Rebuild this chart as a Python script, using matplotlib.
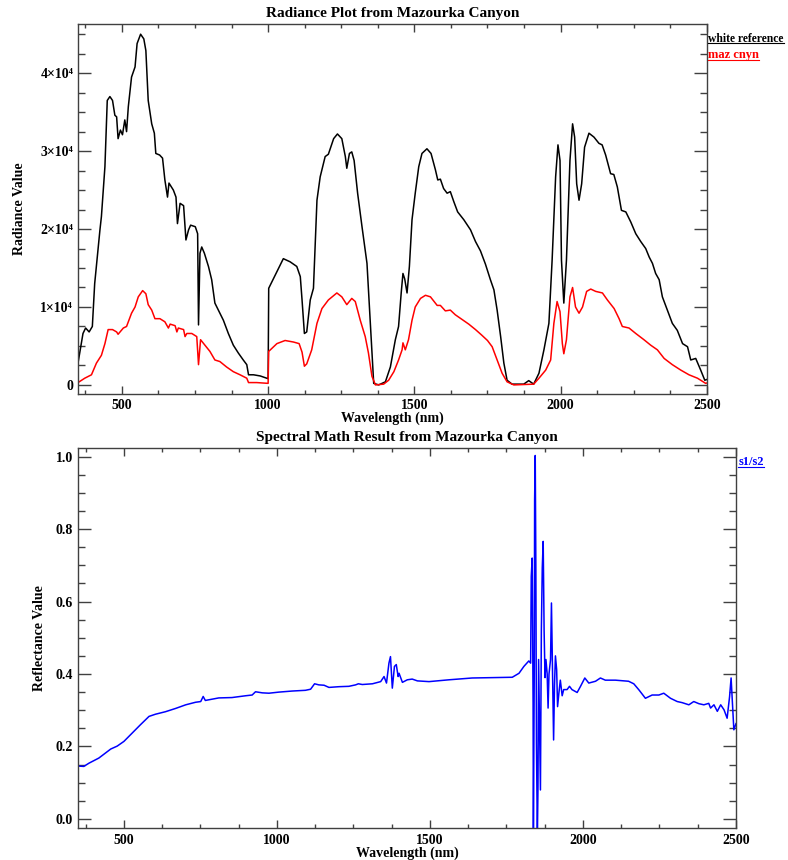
import matplotlib
matplotlib.use('Agg')
import matplotlib.pyplot as plt
from matplotlib.ticker import MultipleLocator, FuncFormatter

plt.rcParams['font.family'] = ['Liberation Serif', 'DejaVu Serif']
plt.rcParams['font.weight'] = 'bold'

# white reference radiance
white_wl = [350, 367, 376, 388, 399, 407, 425, 430, 442, 450, 459, 468, 476, 482, 487, 495,
            502, 510, 516, 522, 533, 545, 552, 564, 575, 582, 590, 602, 611, 616, 629, 639,
            647, 656, 661, 676, 685, 690, 699, 711, 716, 719, 728, 735, 751, 759, 762, 767,
            773, 782, 796, 807, 818, 830, 847, 864, 881, 898, 915, 927, 933, 950, 973, 995,
            1000, 1002, 1052, 1075, 1098, 1110, 1116, 1124, 1132, 1144, 1155, 1167, 1178,
            1195, 1206, 1224, 1237, 1252, 1264, 1269, 1278, 1286, 1294, 1306, 1321, 1338,
            1349, 1361, 1378, 1401, 1418, 1435, 1446, 1455, 1461, 1467, 1475, 1483, 1492,
            1503, 1515, 1526, 1543, 1557, 1572, 1580, 1589, 1600, 1612, 1623, 1635, 1648,
            1669, 1692, 1709, 1726, 1743, 1760, 1772, 1783, 1795, 1806, 1817, 1834, 1874,
            1891, 1908, 1926, 1943, 1960, 1971, 1983, 1991, 1998, 2003, 2011, 2020, 2032,
            2041, 2048, 2055, 2063, 2072, 2082, 2097, 2114, 2131, 2142, 2154, 2171, 2182,
            2194, 2208, 2223, 2240, 2257, 2274, 2291, 2303, 2314, 2325, 2337, 2348, 2365,
            2382, 2399, 2417, 2434, 2445, 2462, 2479, 2493, 2500]
white_rad = [2800, 6600, 7300, 6800, 7500, 13000, 19900, 21600, 28000, 36500, 37000, 36500,
             34600, 34400, 31600, 32700, 32100, 34000, 32500, 35700, 39500, 40800, 43800,
             45000, 44400, 42900, 36500, 33500, 32300, 29700, 29500, 29100, 26300, 24100,
             25900, 25000, 24100, 20700, 23300, 23000, 20300, 18600, 19900, 20500, 20300,
             19400, 7700, 16900, 17700, 16900, 15200, 13500, 10500, 9600, 8300, 6600, 5100,
             4100, 3200, 2600, 1300, 1300, 1150, 860, 800, 12400, 16200, 15800, 15200,
             13900, 10900, 6600, 6800, 10900, 12400, 23700, 26700, 29300, 29600, 31600,
             32200, 31600, 29300, 27800, 29700, 29900, 28800, 24600, 20300, 15600, 8300,
             200, 0, 400, 2300, 5800, 7500, 11800, 14300, 13600, 11800, 15200, 21200, 24600,
             28000, 29700, 30300, 29700, 27600, 26300, 26400, 25200, 24600, 24800, 23500,
             22200, 21200, 19900, 18400, 17200, 15500, 13500, 12200, 9600, 6200, 2800, 600,
             100, 100, 550, 100, 1500, 4500, 7900, 16000, 26700, 30800, 28800, 16000, 10500,
             16000, 28800, 33500, 31800, 25800, 23700, 25800, 30500, 32300, 31800, 31000,
             30800, 29500, 27100, 27000, 25400, 22400, 22200, 20900, 19400, 18400, 17500,
             16400, 15600, 14300, 13500, 11300, 9600, 7900, 7000, 5300, 4900, 3200, 3400,
             1900, 600, 700]

# maz cnyn radiance
maz_wl = [350, 373, 396, 413, 430, 442, 453, 468, 482, 487, 505, 516, 522, 533, 545, 556,
          571, 582, 590, 602, 613, 630, 647, 659, 665, 682, 688, 693, 711, 716, 722, 739,
          756, 762, 769, 784, 801, 818, 835, 858, 881, 904, 927, 933, 961, 1000, 1002, 1030,
          1058, 1087, 1106, 1116, 1124, 1132, 1149, 1167, 1184, 1206, 1235, 1252, 1269,
          1286, 1298, 1315, 1332, 1343, 1355, 1367, 1395, 1412, 1430, 1446, 1458, 1461,
          1469, 1480, 1492, 1503, 1521, 1538, 1555, 1578, 1589, 1606, 1623, 1640, 1663,
          1686, 1709, 1730, 1750, 1766, 1783, 1800, 1817, 1840, 1908, 1926, 1949, 1966,
          1977, 1988, 1998, 2006, 2011, 2020, 2032, 2041, 2051, 2063, 2075, 2089, 2103,
          2120, 2143, 2160, 2183, 2200, 2211, 2234, 2257, 2285, 2308, 2331, 2354, 2382,
          2411, 2439, 2468, 2496, 2500]
maz_rad = [300, 860, 1300, 2800, 3800, 5300, 7100, 7100, 6800, 6500, 7300, 7500, 8100,
           9200, 10000, 11300, 12100, 11700, 10300, 9600, 8500, 8500, 8100, 7300, 7800,
           7600, 6800, 7300, 7100, 6200, 6600, 6600, 6200, 2600, 5800, 5100, 4300, 3200,
           3000, 2300, 1700, 1300, 860, 300, 300, 200, 4300, 5300, 5700, 5500, 5300, 4200,
           2400, 2700, 4500, 7900, 9800, 10900, 11800, 11300, 10300, 11100, 10700, 8300,
           6200, 4100, 1100, 0, 100, 600, 1700, 3200, 4500, 5400, 4500, 5800, 8300, 10000,
           11100, 11500, 11300, 10200, 10200, 9500, 9600, 9000, 8400, 7800, 7100, 6400,
           5700, 4900, 3200, 1500, 400, 0, 100, 860, 1900, 3200, 7900, 10700, 9400, 5300,
           4000, 5800, 11300, 12500, 10000, 9200, 10000, 12000, 12300, 12000, 11800, 10900,
           9800, 8500, 7500, 7300, 6600, 5800, 5100, 4500, 3400, 2600, 1900, 1300, 860, 200,
           250]

# s1/s2 ratio
ratio_wl = [350, 369, 386, 418, 457, 478, 500, 527, 554, 582, 603, 636, 669, 702, 734, 751,
            759, 766, 810, 853, 898, 919, 930, 952, 974, 1006, 1050, 1093, 1110, 1123, 1137,
            1154, 1170, 1203, 1235, 1257, 1266, 1279, 1312, 1339, 1350, 1358, 1366, 1371,
            1377, 1384, 1390, 1396, 1399, 1410, 1426, 1442, 1459, 1497, 1562, 1638, 1714,
            1769, 1791, 1807, 1823, 1829, 1831, 1834, 1837, 1838, 1841, 1842, 1844, 1846,
            1848, 1851, 1853, 1855, 1858, 1861, 1864, 1867, 1870, 1873, 1876, 1879, 1883,
            1886, 1889, 1894, 1897, 1901, 1904, 1907, 1910, 1914, 1917, 1921, 1926, 1932,
            1937, 1948, 1956, 1964, 1981, 1992, 2006, 2019, 2041, 2057, 2073, 2106, 2149,
            2166, 2183, 2204, 2226, 2248, 2264, 2286, 2308, 2324, 2346, 2362, 2379, 2395,
            2411, 2417, 2428, 2439, 2450, 2461, 2471, 2479, 2484, 2489, 2493, 2500]
ratio_val = [0.146, 0.145, 0.154, 0.168, 0.193, 0.201, 0.214, 0.237, 0.260, 0.283, 0.289,
             0.296, 0.305, 0.315, 0.322, 0.324, 0.338, 0.327, 0.334, 0.335, 0.340, 0.342,
             0.351, 0.348, 0.347, 0.350, 0.353, 0.355, 0.358, 0.373, 0.370, 0.369, 0.363,
             0.365, 0.366, 0.370, 0.373, 0.371, 0.373, 0.379, 0.393, 0.375, 0.430, 0.448,
             0.361, 0.421, 0.426, 0.393, 0.402, 0.377, 0.384, 0.386, 0.381, 0.379, 0.384,
             0.389, 0.390, 0.391, 0.402, 0.421, 0.436, 0.430, 0.669, 0.720, 0.320, -0.05,
             0.430, 0.881, 1.003, 0.700, 0.209, -0.05, 0.090, 0.440, 0.250, 0.080, 0.520,
             0.693, 0.766, 0.520, 0.390, 0.440, 0.400, 0.306, 0.400, 0.440, 0.596, 0.390,
             0.218, 0.370, 0.450, 0.412, 0.310, 0.345, 0.383, 0.340, 0.357, 0.357, 0.366,
             0.357, 0.349, 0.366, 0.389, 0.375, 0.380, 0.389, 0.383, 0.383, 0.380, 0.373,
             0.356, 0.333, 0.342, 0.342, 0.347, 0.333, 0.324, 0.321, 0.315, 0.324, 0.318,
             0.315, 0.319, 0.306, 0.315, 0.297, 0.315, 0.301, 0.278, 0.337, 0.389, 0.310,
             0.246, 0.263]

spine_color = '#404040'


def style_axes(ax, ytick_len):
    for s in ax.spines.values():
        s.set_color(spine_color)
        s.set_linewidth(1.0)
    ax.tick_params(which='both', direction='in', top=True, right=True,
                   color=spine_color, labelsize=10)
    ax.tick_params(axis='y', which='major', length=ytick_len, width=1.0)
    ax.tick_params(axis='y', which='minor', length=ytick_len / 2, width=1.0)
    ax.tick_params(axis='x', which='major', length=5.5, width=1.0, pad=4)
    ax.tick_params(axis='x', which='minor', length=3, width=1.0)
    for lab in ax.get_xticklabels() + ax.get_yticklabels():
        lab.set_fontweight('bold')


def legend_entry(fig, x, y, text, color, size=9):
    # IDL-style legend: label text with its own colour underline
    t = fig.text(x, y, text, color=color, fontsize=size, fontweight='bold',
                 ha='left', va='baseline')
    fig.canvas.draw()
    bb = t.get_window_extent().transformed(fig.transFigure.inverted())
    fig.add_artist(plt.Line2D([bb.x0, bb.x1], [y - 0.002, y - 0.002],
                              color=color, lw=0.8, transform=fig.transFigure))
    return t


fig = plt.figure(figsize=(7.88, 8.60), dpi=100)

# radiance plot
ax1 = fig.add_axes([0.099, 0.542, 0.798, 0.430])
ax1.plot(white_wl, white_rad, color='black', lw=1.1)
ax1.plot(maz_wl, maz_rad, color='#ff0000', lw=1.1)
ax1.set_xlim(350, 2500)
ax1.set_ylim(-1150, 46300)
ax1.xaxis.set_major_locator(MultipleLocator(500))
ax1.xaxis.set_minor_locator(MultipleLocator(125))
ax1.yaxis.set_major_locator(MultipleLocator(10000))
ax1.yaxis.set_minor_locator(MultipleLocator(2500))
ax1.yaxis.set_major_formatter(FuncFormatter(
    lambda v, p: '0' if v == 0 else '%d×10⁴' % round(v / 1e4)))
ax1.set_title('Radiance Plot from Mazourka Canyon', fontsize=11, fontweight='bold', pad=5)
ax1.set_xlabel('Wavelength (nm)', fontsize=10, fontweight='bold', labelpad=-1)
ax1.set_ylabel('Radiance Value', fontsize=10, fontweight='bold', labelpad=10)
style_axes(ax1, 9.5)

# ratio plot
ax2 = fig.add_axes([0.099, 0.0372, 0.835, 0.442])
ax2.plot(ratio_wl, ratio_val, color='#0000ff', lw=1.1)
ax2.set_xlim(350, 2500)
ax2.set_ylim(-0.025, 1.024)
ax2.xaxis.set_major_locator(MultipleLocator(500))
ax2.xaxis.set_minor_locator(MultipleLocator(125))
ax2.yaxis.set_major_locator(MultipleLocator(0.2))
ax2.yaxis.set_minor_locator(MultipleLocator(0.05))
ax2.yaxis.set_major_formatter(FuncFormatter(lambda v, p: '%.1f' % v))
ax2.set_title('Spectral Math Result from Mazourka Canyon', fontsize=11,
              fontweight='bold', pad=5)
ax2.set_xlabel('Wavelength (nm)', fontsize=10, fontweight='bold', labelpad=0)
ax2.set_ylabel('Reflectance Value', fontsize=10, fontweight='bold', labelpad=7)
style_axes(ax2, 9.5)

legend_entry(fig, 0.899, 1 - 41.5 / 860, 'white reference', 'black', size=8.4)
legend_entry(fig, 0.899, 1 - 58 / 860, 'maz cnyn', '#ff0000')
legend_entry(fig, 0.937, 1 - 465 / 860, 's1/s2', '#0000ff')

fig.savefig('out.png', dpi=100)
